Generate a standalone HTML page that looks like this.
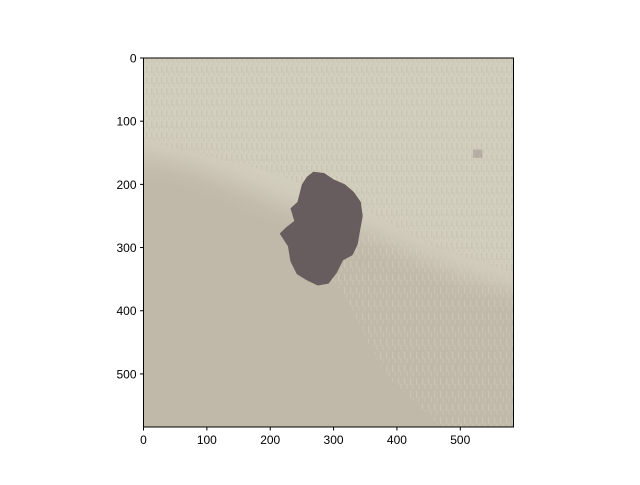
<!DOCTYPE html>
<html><head><meta charset="utf-8"><style>
body{margin:0;background:#fff;}
svg text{font-family:"Liberation Sans",sans-serif;font-size:12px;fill:#000;}
</style></head><body>
<svg width="640" height="480">
<defs>
<clipPath id="cp"><rect x="143.5" y="58" width="370" height="369"/></clipPath>
<filter id="bl"><feGaussianBlur stdDeviation="14"/></filter>
<pattern id="streak" width="5" height="11" patternUnits="userSpaceOnUse">
<rect x="1" y="0" width="1.5" height="7" fill="#c0b8a8"/><rect x="3.5" y="5" width="1" height="5" fill="#c0b8a8"/>
</pattern>
<pattern id="streak2" width="6" height="13" patternUnits="userSpaceOnUse">
<rect x="2" y="1" width="1.2" height="7" fill="#d3cfbe"/><rect x="4.5" y="7" width="1" height="5" fill="#d3cfbe"/>
</pattern>
</defs>
<g id="plot" clip-path="url(#cp)"></g>
<g id="axes"></g>
</svg>
<script>
const xTicks=[0,100,200,300,400,500];
const yTicks=[0,100,200,300,400,500];
const extent=584;
const midRegion=[[-40,150],[60,165],[150,200],[230,235],[300,250],[400,295],[500,340],[640,380],[640,640],[-40,640]];
const lightStreakRegion=[[300,250],[400,290],[500,320],[584,340],[584,584],[470,584],[380,500],[320,380],[280,330]];
const midStreakRegion=[[0,0],[584,0],[584,340],[460,300],[330,230],[200,180],[0,130]];
const lesion=[[268,180],[285,182],[300,192],[318,200],[332,212],[343,228],[346,250],[342,272],[338,295],[330,312],[315,320],[305,340],[292,357],[275,360],[258,352],[242,342],[232,322],[228,298],[215,278],[225,268],[238,258],[232,238],[243,228],[250,200],[258,188]];
const spot=[[520,145],[535,145],[535,158],[520,158]];
const X0=143.5,Y0=58,W=370,H=369;
const sx=v=>X0+v/extent*W, sy=v=>Y0+v/extent*H;
const NS="http://www.w3.org/2000/svg";
const plot=document.getElementById('plot'), axes=document.getElementById('axes');
function mk(tag,attrs,parent){const e=document.createElementNS(NS,tag);for(const k in attrs)e.setAttribute(k,attrs[k]);parent.appendChild(e);return e;}
const pts=a=>a.map(p=>sx(p[0])+','+sy(p[1])).join(' ');
let bg=mk('rect',{x:X0,y:Y0,width:W,height:H,fill:'#d3cfbe'},plot);


let ms=mk('polygon',{points:pts(midStreakRegion),fill:'url(#streak)',opacity:0.45},plot);


let mr=mk('polygon',{points:pts(midRegion),fill:'#c0b8a8',filter:'url(#bl)'},plot);


let ls=mk('polygon',{points:pts(lightStreakRegion),fill:'url(#streak2)',opacity:0.5},plot);


let le=mk('polygon',{points:pts(lesion),fill:'#675d5e'},plot);


let sp=mk('polygon',{points:pts(spot),fill:'#8a8080',opacity:0.4},plot);


let fr=mk('rect',{x:X0,y:Y0,width:W,height:H,fill:'none',stroke:'#000','stroke-width':1},axes);


xTicks.forEach(t=>{const x=sx(t);
 mk('line',{x1:x,x2:x,y1:Y0+H,y2:Y0+H+3.5,stroke:'#000'},axes);
 const tx=mk('text',{x:x,y:Y0+H+17,'text-anchor':'middle'},axes);tx.textContent=t;
 
 });
yTicks.forEach(t=>{const y=sy(t);
 mk('line',{x1:X0,x2:X0-3.5,y1:y,y2:y,stroke:'#000'},axes);
 const tx=mk('text',{x:X0-7,y:y+4.5,'text-anchor':'end'},axes);tx.textContent=t;
 
 });
</script>
</body></html>
